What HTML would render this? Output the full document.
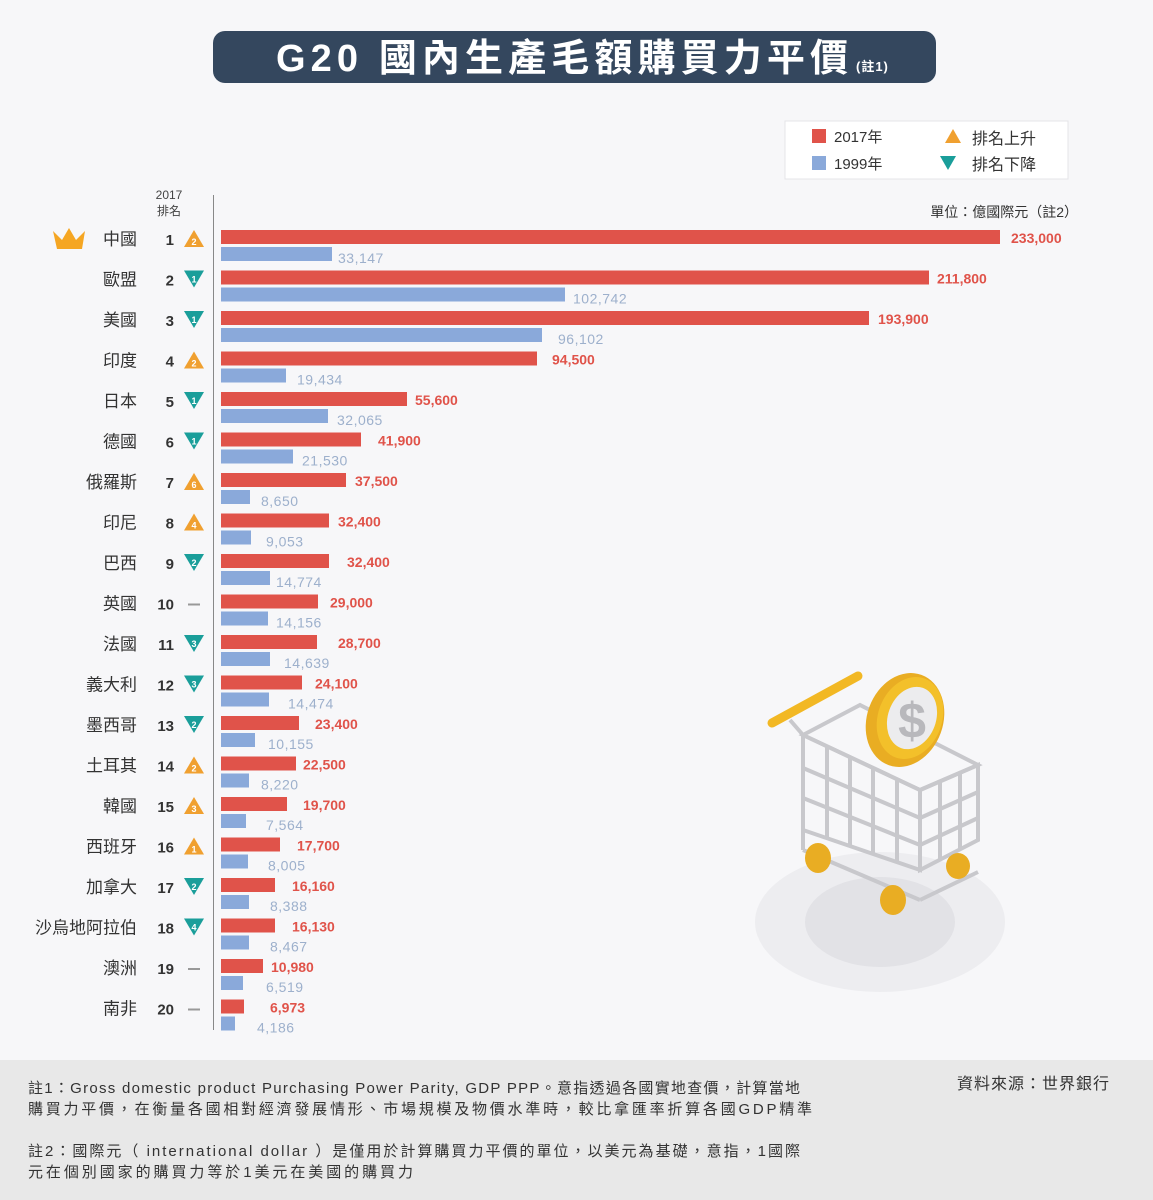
<!DOCTYPE html>
<html><head><meta charset="utf-8"><style>
body{margin:0;background:#f7f7f9;}
svg{display:block;font-family:"Liberation Sans","Noto Sans CJK TC",sans-serif;}
.cn{font-size:17px;fill:#333;text-anchor:end}
.rk{font-size:15px;font-weight:bold;fill:#333;text-anchor:end}
.rv{font-size:14px;font-weight:bold;fill:#e0534a}
.bv{font-size:14px;fill:#9db0cc;letter-spacing:0.5px}
.tn{font-size:9px;font-weight:bold;fill:#fff;text-anchor:middle}
.ft{font-size:15px;fill:#333}
</style></head><body>
<svg width="1153" height="1200" viewBox="0 0 1153 1200">
<rect width="1153" height="1200" fill="#f7f7f9"/>
<rect x="213" y="31" width="723" height="52" rx="12" fill="#34475e"/>
<text x="276" y="71" font-size="38" font-weight="bold" fill="#fff" textLength="572" lengthAdjust="spacing">G20 國內生產毛額購買力平價</text><text x="856" y="71" font-size="13" font-weight="bold" fill="#fff" letter-spacing="1">(註1)</text>
<rect x="785" y="121" width="283" height="58" fill="#fff" stroke="#e4e4e8"/>
<rect x="812" y="129" width="14" height="14" fill="#e0534a"/><text x="834" y="142" font-size="15" fill="#333">2017年</text>
<rect x="812" y="156" width="14" height="14" fill="#8aa9da"/><text x="834" y="169" font-size="15" fill="#333">1999年</text>
<polygon points="945,143 953,129 961,143" fill="#f0a030"/><text x="972" y="144" font-size="16" fill="#333">排名上升</text>
<polygon points="940,156 956,156 948,170" fill="#1a9e9a"/><text x="972" y="170" font-size="16" fill="#333">排名下降</text>
<text x="169" y="199" font-size="12" fill="#444" text-anchor="middle">2017</text>
<text x="169" y="215" font-size="12" fill="#444" text-anchor="middle">排名</text>
<text x="1078" y="217" font-size="14" fill="#333" text-anchor="end">單位：億國際元（註2）</text>
<line x1="213.5" y1="195" x2="213.5" y2="1030" stroke="#888"/>
<path d="M53,231 L62,240 L69,228 L76,240 L85,231 L82,249 L57,249 Z" fill="#f5a623"/>
<defs>
<g id="up"><polygon points="-10,8 0,-9 10,8" fill="#f0a030"/></g>
<g id="dn"><polygon points="-10,-8 10,-8 0,9" fill="#1a9e9a"/></g>
<g id="nc"><rect x="-6" y="-1" width="12" height="2" fill="#999"/></g>
</defs>
<g transform="translate(0,230)"><text class="cn" x="137" y="15">中國</text><text class="rk" x="174" y="15">1</text><use href="#up" x="194" y="9"/><text class="tn" x="194" y="15">2</text><rect x="221" y="0" width="779" height="14" fill="#e0534a"/><rect x="221" y="17" width="111" height="14" fill="#8aa9da"/><text class="rv" x="1011" y="13">233,000</text><text class="bv" x="338" y="33">33,147</text></g>
<g transform="translate(0,270.5)"><text class="cn" x="137" y="15">歐盟</text><text class="rk" x="174" y="15">2</text><use href="#dn" x="194" y="8"/><text class="tn" x="194" y="12">1</text><rect x="221" y="0" width="708" height="14" fill="#e0534a"/><rect x="221" y="17" width="344" height="14" fill="#8aa9da"/><text class="rv" x="937" y="13">211,800</text><text class="bv" x="573" y="33">102,742</text></g>
<g transform="translate(0,311)"><text class="cn" x="137" y="15">美國</text><text class="rk" x="174" y="15">3</text><use href="#dn" x="194" y="8"/><text class="tn" x="194" y="12">1</text><rect x="221" y="0" width="648" height="14" fill="#e0534a"/><rect x="221" y="17" width="321" height="14" fill="#8aa9da"/><text class="rv" x="878" y="13">193,900</text><text class="bv" x="558" y="33">96,102</text></g>
<g transform="translate(0,351.5)"><text class="cn" x="137" y="15">印度</text><text class="rk" x="174" y="15">4</text><use href="#up" x="194" y="9"/><text class="tn" x="194" y="15">2</text><rect x="221" y="0" width="316" height="14" fill="#e0534a"/><rect x="221" y="17" width="65" height="14" fill="#8aa9da"/><text class="rv" x="552" y="13">94,500</text><text class="bv" x="297" y="33">19,434</text></g>
<g transform="translate(0,392)"><text class="cn" x="137" y="15">日本</text><text class="rk" x="174" y="15">5</text><use href="#dn" x="194" y="8"/><text class="tn" x="194" y="12">1</text><rect x="221" y="0" width="186" height="14" fill="#e0534a"/><rect x="221" y="17" width="107" height="14" fill="#8aa9da"/><text class="rv" x="415" y="13">55,600</text><text class="bv" x="337" y="33">32,065</text></g>
<g transform="translate(0,432.5)"><text class="cn" x="137" y="15">德國</text><text class="rk" x="174" y="15">6</text><use href="#dn" x="194" y="8"/><text class="tn" x="194" y="12">1</text><rect x="221" y="0" width="140" height="14" fill="#e0534a"/><rect x="221" y="17" width="72" height="14" fill="#8aa9da"/><text class="rv" x="378" y="13">41,900</text><text class="bv" x="302" y="33">21,530</text></g>
<g transform="translate(0,473)"><text class="cn" x="137" y="15">俄羅斯</text><text class="rk" x="174" y="15">7</text><use href="#up" x="194" y="9"/><text class="tn" x="194" y="15">6</text><rect x="221" y="0" width="125" height="14" fill="#e0534a"/><rect x="221" y="17" width="29" height="14" fill="#8aa9da"/><text class="rv" x="355" y="13">37,500</text><text class="bv" x="261" y="33">8,650</text></g>
<g transform="translate(0,513.5)"><text class="cn" x="137" y="15">印尼</text><text class="rk" x="174" y="15">8</text><use href="#up" x="194" y="9"/><text class="tn" x="194" y="15">4</text><rect x="221" y="0" width="108" height="14" fill="#e0534a"/><rect x="221" y="17" width="30" height="14" fill="#8aa9da"/><text class="rv" x="338" y="13">32,400</text><text class="bv" x="266" y="33">9,053</text></g>
<g transform="translate(0,554)"><text class="cn" x="137" y="15">巴西</text><text class="rk" x="174" y="15">9</text><use href="#dn" x="194" y="8"/><text class="tn" x="194" y="12">2</text><rect x="221" y="0" width="108" height="14" fill="#e0534a"/><rect x="221" y="17" width="49" height="14" fill="#8aa9da"/><text class="rv" x="347" y="13">32,400</text><text class="bv" x="276" y="33">14,774</text></g>
<g transform="translate(0,594.5)"><text class="cn" x="137" y="15">英國</text><text class="rk" x="174" y="15">10</text><use href="#nc" x="194" y="10"/><rect x="221" y="0" width="97" height="14" fill="#e0534a"/><rect x="221" y="17" width="47" height="14" fill="#8aa9da"/><text class="rv" x="330" y="13">29,000</text><text class="bv" x="276" y="33">14,156</text></g>
<g transform="translate(0,635)"><text class="cn" x="137" y="15">法國</text><text class="rk" x="174" y="15">11</text><use href="#dn" x="194" y="8"/><text class="tn" x="194" y="12">3</text><rect x="221" y="0" width="96" height="14" fill="#e0534a"/><rect x="221" y="17" width="49" height="14" fill="#8aa9da"/><text class="rv" x="338" y="13">28,700</text><text class="bv" x="284" y="33">14,639</text></g>
<g transform="translate(0,675.5)"><text class="cn" x="137" y="15">義大利</text><text class="rk" x="174" y="15">12</text><use href="#dn" x="194" y="8"/><text class="tn" x="194" y="12">3</text><rect x="221" y="0" width="81" height="14" fill="#e0534a"/><rect x="221" y="17" width="48" height="14" fill="#8aa9da"/><text class="rv" x="315" y="13">24,100</text><text class="bv" x="288" y="33">14,474</text></g>
<g transform="translate(0,716)"><text class="cn" x="137" y="15">墨西哥</text><text class="rk" x="174" y="15">13</text><use href="#dn" x="194" y="8"/><text class="tn" x="194" y="12">2</text><rect x="221" y="0" width="78" height="14" fill="#e0534a"/><rect x="221" y="17" width="34" height="14" fill="#8aa9da"/><text class="rv" x="315" y="13">23,400</text><text class="bv" x="268" y="33">10,155</text></g>
<g transform="translate(0,756.5)"><text class="cn" x="137" y="15">土耳其</text><text class="rk" x="174" y="15">14</text><use href="#up" x="194" y="9"/><text class="tn" x="194" y="15">2</text><rect x="221" y="0" width="75" height="14" fill="#e0534a"/><rect x="221" y="17" width="28" height="14" fill="#8aa9da"/><text class="rv" x="303" y="13">22,500</text><text class="bv" x="261" y="33">8,220</text></g>
<g transform="translate(0,797)"><text class="cn" x="137" y="15">韓國</text><text class="rk" x="174" y="15">15</text><use href="#up" x="194" y="9"/><text class="tn" x="194" y="15">3</text><rect x="221" y="0" width="66" height="14" fill="#e0534a"/><rect x="221" y="17" width="25" height="14" fill="#8aa9da"/><text class="rv" x="303" y="13">19,700</text><text class="bv" x="266" y="33">7,564</text></g>
<g transform="translate(0,837.5)"><text class="cn" x="137" y="15">西班牙</text><text class="rk" x="174" y="15">16</text><use href="#up" x="194" y="9"/><text class="tn" x="194" y="15">1</text><rect x="221" y="0" width="59" height="14" fill="#e0534a"/><rect x="221" y="17" width="27" height="14" fill="#8aa9da"/><text class="rv" x="297" y="13">17,700</text><text class="bv" x="268" y="33">8,005</text></g>
<g transform="translate(0,878)"><text class="cn" x="137" y="15">加拿大</text><text class="rk" x="174" y="15">17</text><use href="#dn" x="194" y="8"/><text class="tn" x="194" y="12">2</text><rect x="221" y="0" width="54" height="14" fill="#e0534a"/><rect x="221" y="17" width="28" height="14" fill="#8aa9da"/><text class="rv" x="292" y="13">16,160</text><text class="bv" x="270" y="33">8,388</text></g>
<g transform="translate(0,918.5)"><text class="cn" x="137" y="15">沙烏地阿拉伯</text><text class="rk" x="174" y="15">18</text><use href="#dn" x="194" y="8"/><text class="tn" x="194" y="12">4</text><rect x="221" y="0" width="54" height="14" fill="#e0534a"/><rect x="221" y="17" width="28" height="14" fill="#8aa9da"/><text class="rv" x="292" y="13">16,130</text><text class="bv" x="270" y="33">8,467</text></g>
<g transform="translate(0,959)"><text class="cn" x="137" y="15">澳洲</text><text class="rk" x="174" y="15">19</text><use href="#nc" x="194" y="10"/><rect x="221" y="0" width="42" height="14" fill="#e0534a"/><rect x="221" y="17" width="22" height="14" fill="#8aa9da"/><text class="rv" x="271" y="13">10,980</text><text class="bv" x="266" y="33">6,519</text></g>
<g transform="translate(0,999.5)"><text class="cn" x="137" y="15">南非</text><text class="rk" x="174" y="15">20</text><use href="#nc" x="194" y="10"/><rect x="221" y="0" width="23" height="14" fill="#e0534a"/><rect x="221" y="17" width="14" height="14" fill="#8aa9da"/><text class="rv" x="270" y="13">6,973</text><text class="bv" x="257" y="33">4,186</text></g>
<!-- cart -->
<ellipse cx="880" cy="922" rx="125" ry="70" fill="#ededf0"/>
<ellipse cx="880" cy="922" rx="75" ry="45" fill="#e2e2e6"/>
<g fill="none" stroke="#c8c8cc" stroke-width="4">
<polygon points="803,735 920,790 920,870 803,830"/>
<polygon points="920,790 978,765 978,840 920,870"/>
<polygon points="803,735 860,705 978,765 920,790"/>
<line x1="803" y1="768" x2="920" y2="818"/><line x1="803" y1="798" x2="920" y2="845"/>
<line x1="827" y1="746" x2="827" y2="838"/><line x1="850" y1="757" x2="850" y2="847"/><line x1="873" y1="768" x2="873" y2="855"/><line x1="897" y1="779" x2="897" y2="862"/>
<line x1="920" y1="818" x2="978" y2="792"/><line x1="920" y1="845" x2="978" y2="818"/>
<line x1="940" y1="781" x2="940" y2="860"/><line x1="960" y1="773" x2="960" y2="850"/>
<line x1="790" y1="720" x2="803" y2="735"/><line x1="803" y1="830" x2="803" y2="850"/><line x1="803" y1="850" x2="920" y2="900"/><line x1="920" y1="900" x2="978" y2="872"/>
</g>
<line x1="772" y1="723" x2="858" y2="676" stroke="#f2b824" stroke-width="9" stroke-linecap="round"/>
<ellipse cx="818" cy="858" rx="13" ry="15" fill="#e9ad23"/><ellipse cx="893" cy="900" rx="13" ry="15" fill="#e9ad23"/><ellipse cx="958" cy="866" rx="12" ry="13" fill="#e9ad23"/>
<ellipse cx="905" cy="720" rx="38" ry="48" transform="rotate(20 905 720)" fill="#e9ad23"/>
<ellipse cx="910" cy="718" rx="32" ry="42" transform="rotate(20 910 718)" fill="#f3c02a"/>
<ellipse cx="912" cy="718" rx="24" ry="32" transform="rotate(20 912 718)" fill="#ececee"/>
<text x="912" y="738" font-size="50" font-weight="bold" fill="#b8b8bc" text-anchor="middle">$</text>
<!-- footer -->
<rect x="0" y="1060" width="1153" height="140" fill="#e8e8e8"/>
<text class="ft" x="28" y="1093" textLength="772" lengthAdjust="spacing">註1：Gross domestic product Purchasing Power Parity, GDP PPP。意指透過各國實地查價，計算當地</text>
<text class="ft" x="28" y="1114" textLength="784" lengthAdjust="spacing">購買力平價，在衡量各國相對經濟發展情形、市場規模及物價水準時，較比拿匯率折算各國GDP精準</text>
<text class="ft" x="28" y="1156" textLength="772" lengthAdjust="spacing">註2：國際元（ international dollar ）是僅用於計算購買力平價的單位，以美元為基礎，意指，1國際</text>
<text class="ft" x="28" y="1177" textLength="385" lengthAdjust="spacing">元在個別國家的購買力等於1美元在美國的購買力</text>
<text x="1110" y="1089" font-size="16" fill="#333" text-anchor="end" letter-spacing="1">資料來源：世界銀行</text>
</svg>
</body></html>
